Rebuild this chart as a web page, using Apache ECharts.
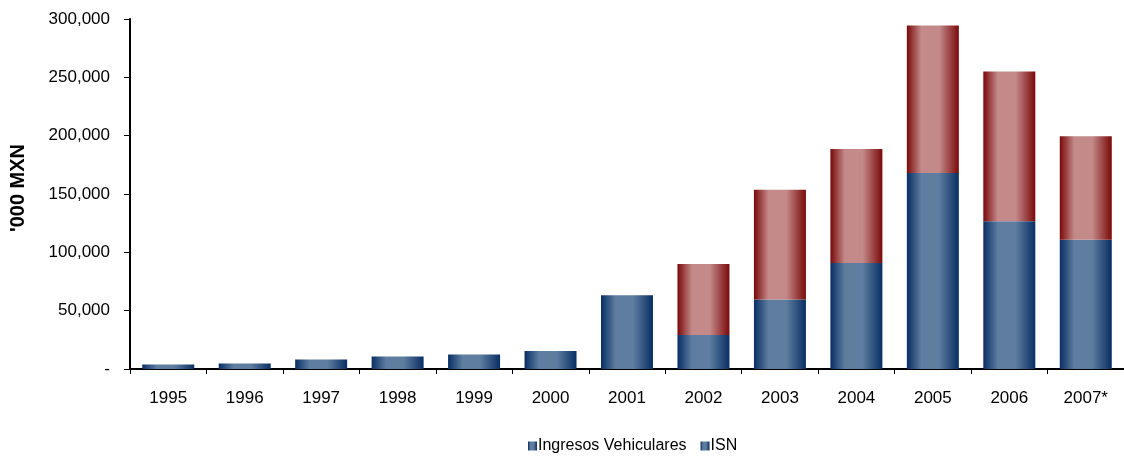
<!DOCTYPE html>
<html>
<head>
<meta charset="utf-8">
<script src="https://cdn.jsdelivr.net/npm/echarts@6/dist/echarts.min.js"></script>
<style>
  html, body { margin: 0; padding: 0; background: #fff; }
  #chart { width: 1124px; height: 459px; }
</style>
</head>
<body>
<div id="chart"></div>
<script>
const years = ['1995', '1996', '1997', '1998', '1999', '2000', '2001', '2002', '2003', '2004', '2005', '2006', '2007*']
// parte inferior (azul)
const ingresosVehiculares = [3800, 4700, 8100, 10700, 12400, 15500, 63300, 29200, 59500, 90800, 168000, 126700, 110800]
// parte superior (rojo)
const isn = [0, 0, 0, 0, 0, 0, 0, 60800, 94100, 97700, 126500, 128300, 88800]
const yTicks = [0, 50000, 100000, 150000, 200000, 250000, 300000]

function barGradient(dark, light) {
  return new echarts.graphic.LinearGradient(0, 0, 1, 0, [
    { offset: 0, color: dark },
    { offset: 0.28, color: light },
    { offset: 0.62, color: light },
    { offset: 1, color: dark }
  ])
}
const blue = barGradient('#082e64', '#5e7d9f')
const red = barGradient('#7a0909', '#c48a8a')

const chartDom = echarts.init(document.getElementById('chart'))
const option = {
  animation: false,
  textStyle: { fontFamily: 'Liberation Sans, Arial, sans-serif' },
  grid: { left: 129, right: 0, top: 19, bottom: 90, containLabel: false },
  legend: {
    top: 438,
    left: 528,
    padding: 0,
    icon: 'rect',
    itemWidth: 9,
    itemHeight: 9,
    itemGap: 14,
    itemStyle: { borderWidth: 0 },
    textStyle: { fontSize: 16, color: '#000', padding: [0, 0, 0, -4] },
    data: [
      { name: 'Ingresos Vehiculares', itemStyle: { color: blue } },
      { name: 'ISN', itemStyle: { color: blue } }
    ]
  },
  xAxis: {
    type: 'category',
    data: years,
    axisLine: { lineStyle: { color: '#000', width: 2 } },
    axisTick: { show: true, length: 5, lineStyle: { color: '#000' } },
    axisLabel: { color: '#000', fontSize: 17, margin: 21 }
  },
  yAxis: {
    type: 'value',
    min: 0,
    max: 300000,
    interval: 50000,
    name: '\'000 MXN',
    nameLocation: 'middle',
    nameGap: 102,
    nameRotate: 90,
    nameTextStyle: { fontSize: 20, fontWeight: 'bold', color: '#000', padding: [0, 0, 0, 12] },
    axisLine: { show: true, lineStyle: { color: '#000', width: 2 } },
    axisTick: { show: true, length: 6, lineStyle: { color: '#000' } },
    splitLine: { show: false },
    axisLabel: {
      color: '#000',
      fontSize: 17,
      margin: 20,
      formatter: function(value) {
        if (value === 0) {
          return '-'
        }
        return value.toLocaleString('en-US')
      }
    }
  },
  series: [
    {
      name: 'Ingresos Vehiculares',
      type: 'bar',
      stack: 'total',
      barWidth: '68%',
      data: ingresosVehiculares,
      itemStyle: { color: blue }
    },
    {
      name: 'ISN',
      type: 'bar',
      stack: 'total',
      barWidth: '68%',
      data: isn,
      itemStyle: { color: red }
    }
  ]
}
chartDom.setOption(option)
</script>
</body>
</html>
